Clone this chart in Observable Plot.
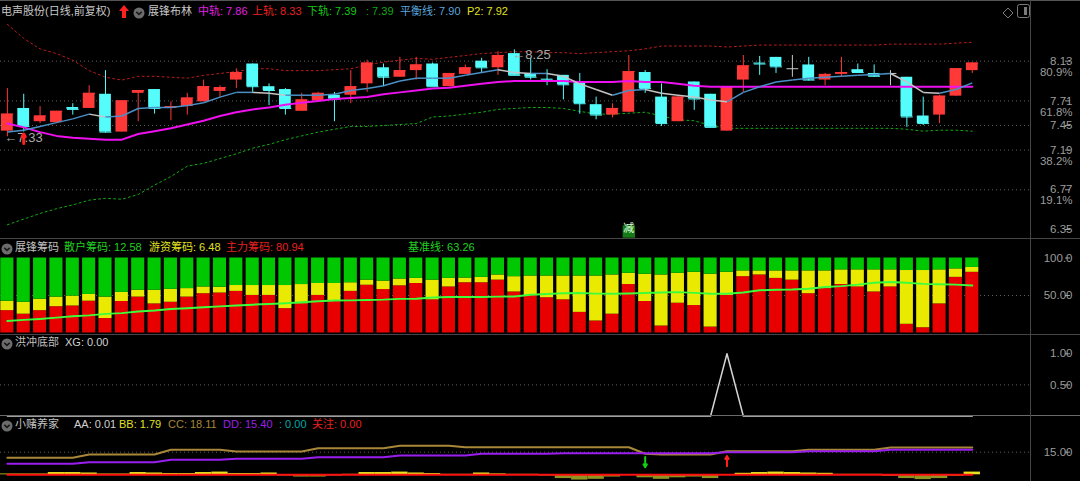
<!DOCTYPE html>
<html><head><meta charset="utf-8">
<script src="https://cdn.jsdelivr.net/npm/d3@7"></script>
<script src="https://cdn.jsdelivr.net/npm/@observablehq/plot@0.6"></script>
<style>
html,body{margin:0;padding:0;background:#000;}
#wrap{position:relative;width:1080px;height:481px;background:#000;overflow:hidden;}
.panel{position:absolute;left:0;width:1080px;}
.panel svg{display:block;}
.hd{position:absolute;white-space:nowrap;line-height:14px;font-family:"Liberation Sans","Noto Sans CJK SC",sans-serif;font-size:11px;}
.ln{position:absolute;background:#464646;}
.ic{position:absolute;}
</style></head>
<body><div id="wrap"></div>
<script>
// ---------- main panel (K-line + Bollinger) ----------
const open  = [7.39,7.63,7.49,7.48,7.64,7.63,7.78,7.38,7.79,7.83, 7.63,7.65,7.70,7.81,7.93,8.10,7.86,7.83,7.60,7.71, 7.77,7.77,7.89,8.06,7.96,8.03,8.10,7.86,7.99,8.13, 8.06,8.21,8.00,7.94,7.98,7.91,7.67,7.56,7.59,8.01, 7.75,7.49,7.91,7.78,7.39,7.93,8.11,8.17,8.05,8.09, 7.93,7.99,8.04,8.00,8.00,7.96,7.55,7.56,7.76,8.03];
const high  = [7.84,7.78,7.65,7.60,7.68,7.87,8.03,7.71,7.82,7.83, 7.70,7.79,7.93,7.87,8.05,8.10,7.89,7.84,7.79,7.80, 7.80,8.03,8.14,8.10,8.17,8.17,8.11,8.00,8.09,8.16, 8.23,8.25,8.16,8.04,7.98,8.00,7.75,7.68,8.19,8.03, 7.89,7.77,7.91,7.78,7.86,8.19,8.18,8.17,8.19,8.17, 8.00,8.17,8.10,8.09,8.03,7.96,7.75,7.77,8.05,8.11];
const low   = [7.33,7.38,7.47,7.47,7.56,7.63,7.37,7.38,7.49,7.57, 7.50,7.56,7.70,7.74,7.84,7.79,7.66,7.56,7.60,7.71, 7.49,7.68,7.80,7.86,7.96,7.93,7.86,7.86,7.99,8.00, 7.98,7.98,7.93,7.87,7.72,7.57,7.51,7.53,7.59,7.79, 7.44,7.49,7.61,7.43,7.39,7.80,7.98,8.00,7.96,7.92, 7.87,7.96,8.00,7.96,7.87,7.43,7.45,7.47,7.76,8.00];
const close = [7.57,7.44,7.55,7.60,7.62,7.79,7.38,7.71,7.82,7.63, 7.65,7.74,7.86,7.85,8.01,7.86,7.82,7.63,7.72,7.79, 7.73,7.86,8.11,7.96,8.03,8.09,7.86,8.00,8.06,8.06, 8.19,7.98,7.96,7.93,7.88,7.68,7.56,7.63,8.02,7.84, 7.47,7.75,7.73,7.43,7.86,8.08,8.10,8.07,8.05,7.93, 7.99,8.01,8.01,7.97,8.00,7.54,7.47,7.76,8.05,8.11];
const upper = [8.52,8.37,8.26,8.21,8.14,8.03,7.96,7.93,7.97,7.97, 7.96,7.95,7.98,8.00,8.02,8.05,8.05,8.03,8.03,8.03, 8.04,8.05,8.09,8.12,8.14,8.16,8.15,8.17,8.19,8.21, 8.22,8.23,8.23,8.22,8.22,8.21,8.22,8.23,8.24,8.26, 8.29,8.29,8.29,8.29,8.28,8.29,8.30,8.30,8.30,8.30, 8.30,8.30,8.30,8.30,8.31,8.31,8.31,8.31,8.32,8.33];
const mid   = [7.47,7.43,7.38,7.34,7.32,7.31,7.30,7.30,7.36,7.39, 7.42,7.46,7.50,7.55,7.59,7.62,7.64,7.67,7.69,7.71, 7.73,7.74,7.75,7.78,7.80,7.82,7.84,7.85,7.87,7.89, 7.91,7.92,7.92,7.92,7.92,7.91,7.91,7.91,7.92,7.91, 7.91,7.89,7.87,7.86,7.86,7.86,7.86,7.86,7.86,7.86, 7.86,7.86,7.86,7.86,7.86,7.86,7.86,7.86,7.86,7.86];
const lower = [6.40,6.46,6.52,6.57,6.61,6.66,6.68,6.67,6.72,6.82, 6.91,7.02,7.05,7.10,7.15,7.21,7.25,7.30,7.34,7.38, 7.41,7.44,7.44,7.45,7.46,7.47,7.54,7.55,7.57,7.59, 7.62,7.63,7.64,7.64,7.63,7.60,7.57,7.57,7.58,7.59, 7.55,7.51,7.50,7.45,7.42,7.42,7.42,7.42,7.42,7.42, 7.42,7.42,7.42,7.42,7.42,7.41,7.39,7.40,7.40,7.39];
const balance = [7.38,7.40,7.44,7.48,7.52,7.57,7.54,7.55,7.63,7.64, 7.64,7.66,7.69,7.75,7.80,7.80,7.79,7.77,7.77,7.77, 7.78,7.82,7.84,7.87,7.92,7.95,7.95,7.95,7.98,8.01, 8.04,8.01,8.00,8.00,7.97,7.89,7.83,7.77,7.82,7.83, 7.79,7.77,7.75,7.72,7.70,7.80,7.86,7.91,7.93,7.95, 7.96,7.97,7.98,7.99,8.00,7.91,7.80,7.79,7.83,7.90];
const priceTicks = [8.13, 7.71, 7.45, 7.19, 6.77, 6.35];
const gridTicks  = [8.13, 7.71, 7.45, 7.19, 6.77];
const fibTicks   = [8.13, 7.71, 7.19, 6.77];
const fibLabels  = ["80.9%", "61.8%", "38.2%", "19.1%"];
const buySignals = [1];
const reduceSignals = [38];

// ---------- chip panel ----------
const mainForce = [29.8,25.1,29.8,35.1,36.0,42.4,19.3,42.0,47.9,38.8, 41.0,47.9,52.4,53.3,55.5,50.1,50.1,32.5,38.8,50.1, 43.3,55.5,63.7,57.9,62.9,66.0,44.2,61.4,67.0,67.0, 70.5,54.7,50.1,47.0,44.2,27.5,16.0,25.1,64.6,42.0, 9.3,39.7,36.6,7.9,50.1,75.1,77.4,72.8,70.5,52.4, 59.2,64.6,61.4,54.7,61.4,11.6,7.0,38.8,74.2,80.9];
const hotMoney  = [12.6,15.9,15.3,12.8,13.2,9.0,28.6,12.2,9.1,18.2, 17.3,11.3,9.0,7.7,7.8,13.2,13.2,30.8,25.8,15.9, 22.7,11.5,6.8,11.3,9.1,6.8,26.3,11.4,6.3,7.2, 6.9,20.4,25.9,29.0,31.8,48.5,60.0,52.3,15.0,36.3, 68.1,39.9,44.4,70.4,30.9,7.7,5.4,10.0,12.3,30.4, 23.6,19.6,22.8,29.5,22.8,71.7,76.3,45.4,11.3,6.5];
const baseLine  = [16.0,17.5,18.8,20.5,22.2,23.5,25.5,26.5,28.8,30.0, 32.0,33.0,34.2,35.5,36.6,37.8,38.8,39.8,41.0,42.2, 43.3,43.5,44.0,44.5,45.5,45.7,47.2,47.9,47.9,47.9, 48.5,48.8,51.0,52.0,53.0,53.2,52.5,52.3,52.8,53.2, 54.0,54.5,53.5,52.4,52.3,54.0,57.0,57.7,58.0,59.0, 61.4,62.5,64.5,67.0,68.0,67.0,65.5,65.0,64.5,63.3];
const chipTicks = [100, 50];
const chipTickLabels = ["100.0", "50.00"];

// ---------- XG panel ----------
const xg = [0,0,0,0,0,0,0,0,0,0, 0,0,0,0,0,0,0,0,0,0, 0,0,0,0,0,0,0,0,0,0, 0,0,0,0,0,0,0,0,0,0, 0,0,0,0,1,0,0,0,0,0, 0,0,0,0,0,0,0,0,0,0];
const xgTicks = [1, 0.5];
const xgTickLabels = ["1.00", "0.50"];

// ---------- bottom panel ----------
const cc = [11.28,11.28,11.28,11.28,11.28,13.47,13.47,13.47,13.47,13.47, 16.59,16.59,16.59,16.59,15.46,15.46,15.46,15.46,15.46,17.65, 17.65,17.65,17.65,17.65,19.24,19.24,19.24,19.24,18.31,18.31, 18.31,18.31,18.31,18.31,18.31,18.31,18.31,18.31,18.31,14.0, 13.47,13.47,13.47,13.47,15.66,15.66,15.66,15.66,15.66,16.59, 16.59,16.59,16.59,16.59,18.11,18.11,18.11,18.11,18.11,18.11];
const dd = [7.30,7.30,7.30,7.30,7.30,8.36,8.36,8.36,8.36,8.36, 9.95,9.95,9.95,9.95,10.62,10.62,10.62,10.62,10.62,11.68, 11.68,11.68,11.68,11.68,12.81,12.81,12.81,12.81,12.81,13.93, 13.93,13.93,13.93,13.93,14.33,14.33,14.33,14.33,14.33,14.33, 14.33,14.33,14.33,14.33,15.00,15.00,15.00,15.00,15.00,15.66, 15.66,15.66,15.66,15.66,16.59,16.59,16.59,16.59,16.59,16.59];
const bb = [0.5,0.5,0.5,1.5,1.5,1.2,0.5,0.5,1.5,1.2, 0.8,0.8,1.5,1.8,0.8,0.8,1.2,-0.8,-1.5,-1.5, -0.8,0.3,1.5,1.5,1.8,1.2,0.8,0.3,0.3,1.2, 0.6,0.3,0.3,-0.8,-2.5,-3.5,-3.0,-1.5,-0.5,-2.0, -3.0,-2.0,-1.5,-2.5,-0.5,1.0,1.5,1.8,1.5,1.2, 1.0,0.3,0.3,0.3,-1.0,-2.5,-3.2,-2.5,-1.0,1.79];
const focus = [0,0,0,0,0,0,0,0,0,0, 0,0,0,0,0,0,0,0,0,0, 0,0,0,0,0,0,0,0,0,0, 0,0,0,0,0,0,0,0,0,0, 0,0,0,0,0,0,0,0,0,0, 0,0,0,0,0,0,0,0,0,0];
const bottomTicks = [15];
const bottomTickLabels = ["15.00"];

// ================= drawing =================
const idx = d3.range(open.length);
const FONT = "Liberation Sans, Noto Sans CJK SC, sans-serif";
const XDOMAIN = [-0.42, 62.56];
const base = {width: 1080, marginLeft: 0, marginRight: 50,
  x: {domain: XDOMAIN, axis: null},
  style: {background: "transparent", color: "#9c9c9c", fontFamily: FONT, fontSize: "11px", overflow: "visible"}};
const dotted = {stroke: "#5e5e5e", strokeOpacity: 1, strokeDasharray: "1,3"};
const axisOpt = (labels, ticks) => ({anchor: "right", tickSize: 5, tickPadding: 3, textAnchor: "end", dx: 34,
  color: "#9c9c9c", fontSize: 11.5, tickFormat: d => labels[ticks.indexOf(d)]});

const candles = idx.map(i => ({i, o: open[i], h: high[i], l: low[i], c: close[i]}));
const cColor = d => d.c > d.o ? "#ff3838" : d.c < d.o ? "#54fcfc" : "#c8c8c8";
const minC = candles.reduce((a, b) => b.l < a.l ? b : a);
const maxC = candles.reduce((a, b) => b.h > a.h ? b : a);

const mainPlot = Plot.plot({...base, height: 239, marginTop: 20, marginBottom: 1,
  y: {domain: [6.255, 8.56], label: null},
  marks: [
    Plot.gridY(gridTicks, dotted),
    Plot.line(idx, {x: i => i, y: i => upper[i], stroke: "#b81c1c", strokeWidth: 1, strokeDasharray: "2,3"}),
    Plot.line(idx, {x: i => i, y: i => lower[i], stroke: "#12a812", strokeWidth: 1, strokeDasharray: "2,3"}),
    Plot.ruleX(candles, {x: "i", y1: "l", y2: "h", stroke: cColor, strokeWidth: 1}),
    Plot.link(candles, {x1: d => d.i - 0.36, x2: d => d.i + 0.36, y1: "c", y2: "c", stroke: cColor}),
    Plot.rect(candles, {x1: d => d.i - 0.36, x2: d => d.i + 0.36, y1: "o", y2: "c", fill: cColor}),
    Plot.line(idx, {x: i => i, y: i => mid[i], stroke: "#ee10ee", strokeWidth: 2}),
    Plot.link(idx.slice(1), {x1: i => i - 1, y1: i => balance[i - 1], x2: i => i, y2: i => balance[i],
      stroke: i => balance[i] >= balance[i - 1] ? "#4a90c6" : "#c4c4c4", strokeWidth: 1.5}),
    Plot.text([minC], {x: "i", y: "l", text: d => "\u2190" + d.l.toFixed(2), textAnchor: "start", dx: -3, dy: 1, fill: "#a8a8a8", fontSize: 13}),
    Plot.text([maxC], {x: "i", y: "h", text: d => "\u2190" + d.h.toFixed(2), textAnchor: "start", dx: -2, dy: 5, fill: "#a8a8a8", fontSize: 13}),
    Plot.arrow(buySignals, {x1: i => i, x2: i => i, y1: i => low[i] - 0.12, y2: i => low[i] - 0.02, stroke: "#ff2020", strokeWidth: 3, headLength: 7}),
    Plot.dot(reduceSignals, {x: i => i, frameAnchor: "bottom", dy: -7, symbol: "square", r: 7, fill: "#167a16"}),
    Plot.text(reduceSignals, {x: i => i, frameAnchor: "bottom", dy: -7, text: () => "减", fill: "#dcffdc", fontSize: 11, fontFamily: "Noto Sans CJK SC"}),
    Plot.axisY(priceTicks, axisOpt(priceTicks.map(d => d.toFixed(2)), priceTicks)),
    Plot.axisY(fibTicks, {anchor: "right", tickSize: 0, tickPadding: 3, textAnchor: "end", dx: 39, dy: 11,
      color: "#9c9c9c", fontSize: 11.5, tickFormat: d => fibLabels[fibTicks.indexOf(d)]})
  ]});

const chip = idx.map(i => ({i, m: mainForce[i], h: hotMoney[i]}));
const chipPlot = Plot.plot({...base, height: 96, marginTop: 18.5, marginBottom: 2.5,
  y: {domain: [0, 100], label: null},
  marks: [
    Plot.gridY([50], dotted),
    Plot.rect(chip, {x1: d => d.i - 0.4, x2: d => d.i + 0.4, y1: 0, y2: "m", fill: "#e80000"}),
    Plot.rect(chip, {x1: d => d.i - 0.4, x2: d => d.i + 0.4, y1: "m", y2: d => d.m + d.h, fill: "#eaea00"}),
    Plot.rect(chip, {x1: d => d.i - 0.4, x2: d => d.i + 0.4, y1: d => d.m + d.h, y2: 100, fill: "#00c800"}),
    Plot.line(idx, {x: i => i, y: i => baseLine[i], stroke: "#3cff3c", strokeWidth: 2}),
    Plot.axisY(chipTicks, axisOpt(chipTickLabels, chipTicks))
  ]});

const xgPlot = Plot.plot({...base, height: 84, marginTop: 18.3, marginBottom: 3.5,
  y: {domain: [0, 1], label: null},
  marks: [
    Plot.gridY([0.5], dotted),
    Plot.line(idx, {x: i => i, y: i => xg[i], stroke: "#d4d4d4", strokeWidth: 1.5}),
    Plot.axisY(xgTicks, axisOpt(xgTickLabels, xgTicks))
  ]});

const crosses = idx.slice(1).filter(i => (cc[i] - dd[i]) * (cc[i - 1] - dd[i - 1]) < 0)
  .map(i => ({i, up: cc[i] > dd[i], d: dd[i]}));
const botPlot = Plot.plot({...base, height: 62, marginTop: 0, marginBottom: 0,
  y: {domain: [-4.45, 36.7], label: null},
  marks: [
    Plot.gridY(bottomTicks, dotted),
    Plot.rect(idx, {x1: i => i - 0.5, x2: i => i + 0.5, y1: 0, y2: i => bb[i], fill: i => bb[i] >= 0 ? "#e8e020" : "#8f9420"}),
    Plot.line(idx, {x: i => i, y: i => focus[i], stroke: "#ff1010", strokeWidth: 2}),
    Plot.line(idx, {x: i => i, y: i => cc[i], stroke: "#a88838", strokeWidth: 2}),
    Plot.line(idx, {x: i => i, y: i => dd[i], stroke: "#9a1ef0", strokeWidth: 2}),
    Plot.arrow(crosses, {x1: "i", x2: "i", y1: d => d.up ? d.d - 9.3 : d.d - 2.5, y2: d => d.up ? d.d - 2.5 : d.d - 9.3,
      stroke: d => d.up ? "#ff2020" : "#10d010", strokeWidth: 2, headLength: 6}),
    Plot.axisY(bottomTicks, axisOpt(bottomTickLabels, bottomTicks))
  ]});

// ---------- assemble ----------
const wrap = document.getElementById("wrap");
function panel(node, top) { const d = document.createElement("div"); d.className = "panel"; d.style.top = top + "px"; d.appendChild(node); wrap.appendChild(d); }
panel(mainPlot, 0); panel(chipPlot, 239); panel(xgPlot, 335); panel(botPlot, 419);

function line(l, t, w, h, c) { const d = document.createElement("div"); d.className = "ln"; Object.assign(d.style, {left: l + "px", top: t + "px", width: w + "px", height: h + "px"}); if (c) d.style.background = c; wrap.appendChild(d); }
line(0, 0, 1080, 1, "#555"); line(0, 238, 1080, 1); line(0, 334, 1080, 1); line(0, 415, 1080, 1, "#6a6a6a"); line(1030, 0, 1, 481);

function txt(s, l, t, c) { const d = document.createElement("div"); d.className = "hd"; d.textContent = s; Object.assign(d.style, {left: l + "px", top: t + "px", color: c}); wrap.appendChild(d); }
function icon(html, l, t) { const d = document.createElement("div"); d.className = "ic"; d.innerHTML = html; Object.assign(d.style, {left: l + "px", top: t + "px"}); wrap.appendChild(d); }
const circ = '<svg width="12" height="12"><circle cx="6" cy="6" r="5.5" fill="#6c6c6c"/><path d="M3.3 4.8 L6 7.4 L8.7 4.8" stroke="#1a1a1a" stroke-width="1.6" fill="none"/></svg>';

// main header
txt("电声股份(日线,前复权)", 1, 4, "#c8c8c8");
icon('<svg width="10" height="13"><path d="M5 0 L10 6 L7 6 L7 13 L3 13 L3 6 L0 6 Z" fill="#ff2020"/></svg>', 119, 4);
icon(circ, 133, 5);
txt("展锋布林", 148, 4, "#c8c8c8");
txt("中轨: 7.86", 198, 4, "#e020e0");
txt("上轨: 8.33", 252, 4, "#e82020");
txt("下轨: 7.39", 307, 4, "#14c814");
txt(": 7.39", 366, 4, "#12a812");
txt("平衡线: 7.90", 400, 4, "#5aa6dc");
txt("P2: 7.92", 467, 4, "#e0e020");
icon('<svg width="12" height="12"><path d="M6 1 L11 6 L6 11 L1 6 Z" fill="none" stroke="#7a7a7a"/></svg>', 1002, 5);
icon('<svg width="13" height="14"><rect x="0.5" y="0.5" width="12" height="13" rx="2" fill="none" stroke="#7a7a7a"/><rect x="7" y="3" width="3" height="8" fill="#7a7a7a"/></svg>', 1017, 4);

// chip header
icon(circ, 1, 241);
txt("展锋筹码", 15, 240, "#c0c0c0");
txt("散户筹码: 12.58", 64, 240, "#20d020");
txt("游资筹码: 6.48", 149, 240, "#e0e020");
txt("主力筹码: 80.94", 226, 240, "#e82020");
txt("基准线: 63.26", 408, 240, "#20d020");

// XG header
icon(circ, 1, 336);
txt("洪冲底部", 15, 335, "#c0c0c0");
txt("XG: 0.00", 65, 335, "#d0d0d0");

// bottom header
icon(circ, 1, 418);
txt("小赌养家", 15, 417, "#c0c0c0");
txt("AA: 0.01", 74, 417, "#d0d0d0");
txt("BB: 1.79", 119, 417, "#e0e020");
txt("CC: 18.11", 168, 417, "#a88838");
txt("DD: 15.40", 223, 417, "#9a20e8");
txt(": 0.00", 279, 417, "#00a8a8");
txt("关注: 0.00", 312, 417, "#e82020");
</script>
</body></html>
